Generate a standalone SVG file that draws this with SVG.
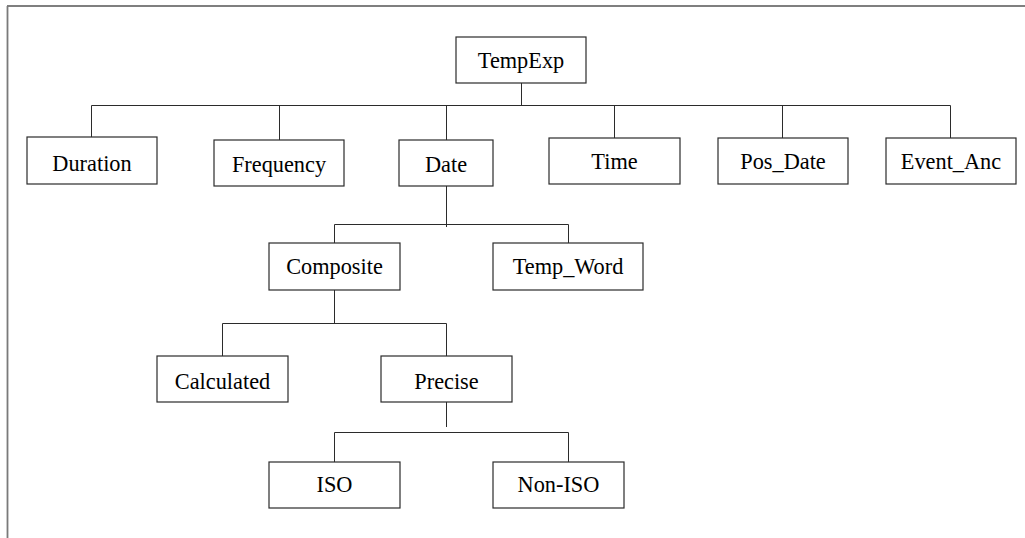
<svg xmlns="http://www.w3.org/2000/svg" width="1025" height="538" viewBox="0 0 1025 538">
  <style>
    .box { fill: #ffffff; stroke: #2b2b2b; stroke-width: 1.2; }
    .lbl { font-size: 24px; fill: #000000; text-anchor: middle; }
    .link { fill: none; stroke: #2b2b2b; stroke-width: 1; }
  </style>
  <rect x="0" y="0" width="1025" height="538" fill="#ffffff"/>

  <!-- outer frame (top and left edges only) -->
  <g id="frame">
    <line x1="7" y1="6" x2="1025" y2="6" stroke="#555555" stroke-width="1.4"/>
    <line x1="7.5" y1="6" x2="7.5" y2="538" stroke="#7a7a7a" stroke-width="1.8"/>
  </g>

  <!-- tree connectors -->
  <g id="connectors" class="link">
    <path d="M521.5 83 V105.5 M91.5 105.5 H950.5 M91.5 105.5 V137 M279.5 105.5 V140 M446.5 105.5 V140 M614.5 105.5 V138 M782.5 105.5 V138 M950.5 105.5 V138"/>
    <path d="M446.5 186 V227 M334.5 224.5 H568.5 M334.5 224.5 V243 M568.5 224.5 V243"/>
    <path d="M334.5 290 V323.5 M222.5 323.5 H446.5 M222.5 323.5 V356 M446.5 323.5 V356"/>
    <path d="M446.5 402 V427 M334.5 432.5 H568.5 M334.5 432.5 V462 M568.5 432.5 V462"/>
  </g>

  <g font-family="'Liberation Serif', 'Times New Roman', Times, serif">
  <g id="node-tempexp">
    <rect class="box" x="456" y="37" width="130" height="46"/>
    <text class="lbl" transform="translate(521 68) scale(0.93 1)">TempExp</text>
  </g>
  <g id="node-duration">
    <rect class="box" x="27" y="137" width="130" height="47"/>
    <text class="lbl" transform="translate(92 171) scale(0.93 1)">Duration</text>
  </g>
  <g id="node-frequency">
    <rect class="box" x="214" y="140" width="130" height="46"/>
    <text class="lbl" transform="translate(279 172) scale(0.93 1)">Frequency</text>
  </g>
  <g id="node-date">
    <rect class="box" x="399" y="140" width="94" height="46"/>
    <text class="lbl" transform="translate(446 172) scale(0.93 1)">Date</text>
  </g>
  <g id="node-time">
    <rect class="box" x="549" y="138" width="131" height="46"/>
    <text class="lbl" transform="translate(614.5 169) scale(0.93 1)">Time</text>
  </g>
  <g id="node-pos-date">
    <rect class="box" x="718" y="138" width="130" height="46"/>
    <text class="lbl" transform="translate(783 169) scale(0.93 1)">Pos_Date</text>
  </g>
  <g id="node-event-anc">
    <rect class="box" x="886" y="138" width="130" height="46"/>
    <text class="lbl" transform="translate(951 169) scale(0.93 1)">Event_Anc</text>
  </g>
  <g id="node-composite">
    <rect class="box" x="269" y="243" width="131" height="47"/>
    <text class="lbl" transform="translate(334.5 274) scale(0.93 1)">Composite</text>
  </g>
  <g id="node-temp-word">
    <rect class="box" x="493" y="243" width="150" height="47"/>
    <text class="lbl" transform="translate(568 274) scale(0.93 1)">Temp_Word</text>
  </g>
  <g id="node-calculated">
    <rect class="box" x="157" y="356" width="131" height="46"/>
    <text class="lbl" transform="translate(222.5 389) scale(0.93 1)">Calculated</text>
  </g>
  <g id="node-precise">
    <rect class="box" x="381" y="356" width="131" height="46"/>
    <text class="lbl" transform="translate(446.5 389) scale(0.93 1)">Precise</text>
  </g>
  <g id="node-iso">
    <rect class="box" x="269" y="462" width="131" height="46"/>
    <text class="lbl" transform="translate(334.5 492) scale(0.93 1)">ISO</text>
  </g>
  <g id="node-non-iso">
    <rect class="box" x="493" y="462" width="131" height="46"/>
    <text class="lbl" transform="translate(558.5 492) scale(0.93 1)">Non-ISO</text>
  </g>
  </g>
</svg>
